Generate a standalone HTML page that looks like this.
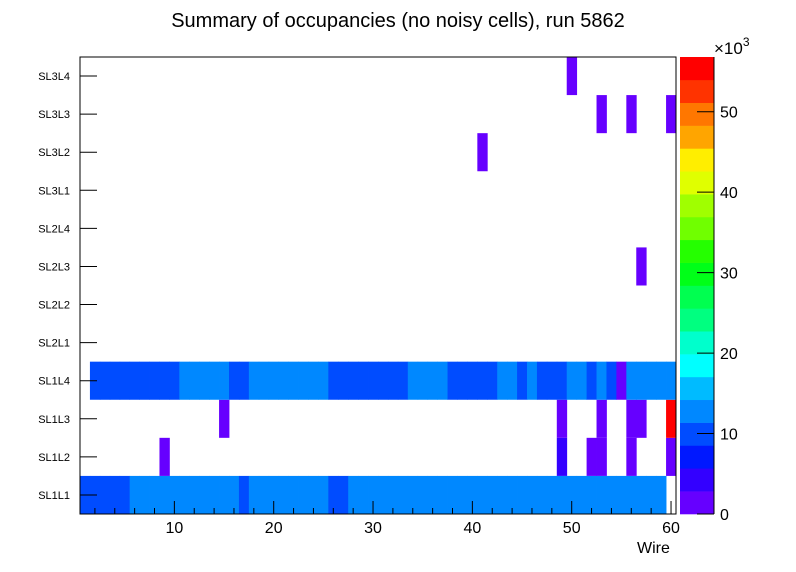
<!DOCTYPE html>
<html><head><meta charset="utf-8"><style>
body{margin:0;background:#fff;font-family:"Liberation Sans",sans-serif}
svg{display:block}
</style></head><body>
<svg id="c" width="796" height="572" xmlns="http://www.w3.org/2000/svg" font-family="Liberation Sans, sans-serif">
<text x="398" y="27" font-size="20" text-anchor="middle">Summary of occupancies (no noisy cells), run 5862</text>
<g id="cells"></g>
<rect x="80" y="57" width="596" height="457" fill="none" stroke="#000" stroke-width="1"/>
<g id="axes"></g>
<g id="cbar"></g>
<text x="637" y="553" font-size="16">Wire</text>
</svg>
<script>
const rowLabels=["SL1L1","SL1L2","SL1L3","SL1L4","SL2L1","SL2L2","SL2L3","SL2L4","SL3L1","SL3L2","SL3L3","SL3L4"];
const xTicks=[10,20,30,40,50,60];
const zTicks=[0,10,20,30,40,50];
const palette=["#6600ff","#3300ff","#0018ff","#004cff","#0088ff","#00bbff","#00ffff","#00ffcc","#00ff80","#00ff50","#00ff18","#25ff00","#70ff00","#a0ff00","#e0ff00","#ffee00","#ffa500","#ff7700","#ff3300","#ff0000"];
// [firstWire,lastWire,row,value(k)]
const runs=[
[1,5,0,9],[6,16,0,13],[17,17,0,9],[18,25,0,13],[26,27,0,9],[28,59,0,13],
[9,9,1,1],[49,49,1,4],[52,53,1,1],[56,56,1,1],[60,60,1,1],
[15,15,2,1],[49,49,2,1],[53,53,2,1],[56,57,2,1],[60,60,2,57],
[2,10,3,9],[11,15,3,13],[16,17,3,9],[18,25,3,13],[26,33,3,9],[34,37,3,13],[38,42,3,9],[43,44,3,13],[45,45,3,9],[46,46,3,13],[47,49,3,9],[50,51,3,13],[52,52,3,9],[53,53,3,13],[54,54,3,9],[55,55,3,1],[56,60,3,13],
[57,57,6,1],[41,41,9,1],[53,53,10,1],[56,56,10,1],[60,60,10,1],[50,50,11,1]
];
const X0=80,X1=676,Y0=57,Y1=514,xmin=0.5,xmax=60.5,zmax=56.8;
const xs=v=>X0+(v-xmin)/(xmax-xmin)*(X1-X0);
const rh=(Y1-Y0)/rowLabels.length;
const ry=r=>Y1-(r+1)*rh;
const zs=v=>Y1-v/zmax*(Y1-Y0);
const col=v=>palette[Math.min(palette.length-1,Math.floor(v/zmax*palette.length))];
const NS="http://www.w3.org/2000/svg";
function mk(t,a,p){const e=document.createElementNS(NS,t);for(const k in a)e.setAttribute(k,a[k]);p.appendChild(e);return e;}
const cells=document.getElementById('cells');
runs.forEach(r=>{
 for(let w=r[0];w<=r[1];w++){
  const e=mk('rect',{x:xs(w-0.5),y:ry(r[2]),width:xs(w+0.5)-xs(w-0.5)+0.4,height:rh,fill:col(r[3])},cells);
  
  
 }
});
const ax=document.getElementById('axes');
rowLabels.forEach((l,i)=>{
 const yc=ry(i)+rh/2;
 mk('line',{x1:X0,x2:X0+17,y1:yc,y2:yc,stroke:'#000'},ax);
 const t=mk('text',{x:70,y:yc+4,'font-size':11,'text-anchor':'end'},ax);t.textContent=l;
 
 
});
for(let w=2;w<=60;w+=2){
 const len=(w%10==0)?13:6;
 mk('line',{x1:xs(w),x2:xs(w),y1:Y1,y2:Y1-len,stroke:'#000'},ax);
}
xTicks.forEach(v=>{
 const t=mk('text',{x:xs(v),y:533,'font-size':16,'text-anchor':'middle'},ax);t.textContent=v;
 
 
});
const cb=document.getElementById('cbar');
palette.forEach((c,i)=>{
 const y1=zs((i+1)*zmax/palette.length),y2=zs(i*zmax/palette.length);
 const e=mk('rect',{x:680,y:y1,width:34,height:y2-y1+0.3,fill:c},cb);
 
 
});
mk('line',{x1:714,x2:714,y1:Y0,y2:Y1,stroke:'#000'},cb);
zTicks.forEach(v=>{
 const y=zs(v);
 mk('line',{x1:697,x2:714,y1:y,y2:y,stroke:'#000'},cb);
 const t=mk('text',{x:720,y:y+6,'font-size':16},cb);t.textContent=v;
 
 
});
const m=mk('text',{x:714,y:54,'font-size':17},cb);m.innerHTML='×10<tspan dy="-8" font-size="12">3</tspan>';


</script>
</body></html>
